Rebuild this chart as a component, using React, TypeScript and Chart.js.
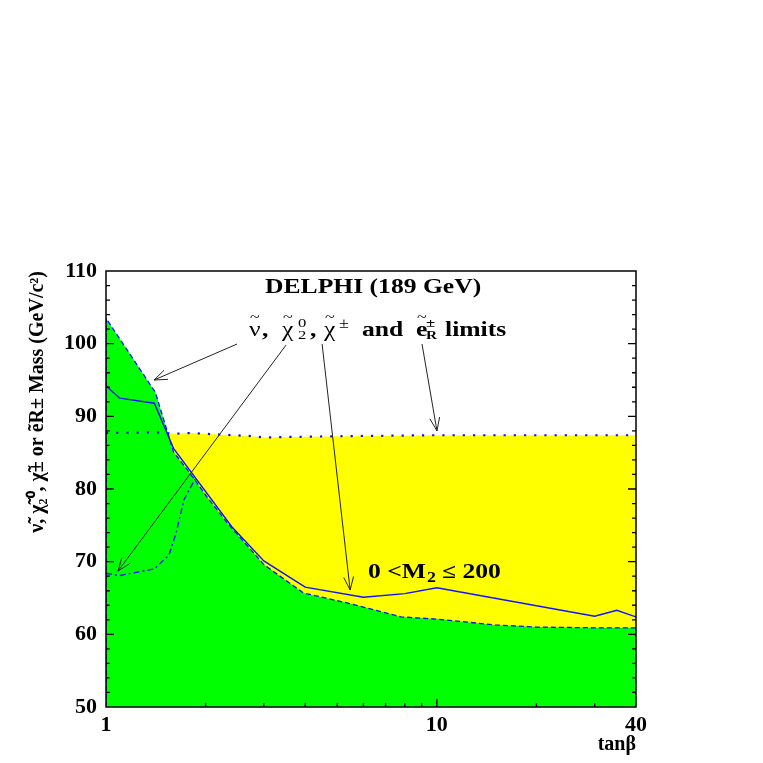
import React, { useEffect, useRef } from "react";
import { Chart, registerables } from "chart.js";

Chart.register(...registerables);

// ---- Axis ranges & ticks ----
const X_MIN = 1;
const X_MAX = 40;
const Y_MIN = 50;
const Y_MAX = 110;
const X_LABELS = [1, 10, 40];
const X_INNER_TICKS = [2, 3, 4, 5, 6, 7, 8, 9, 10, 20, 30];
const X_MAJOR_INNER = [10];
const Y_INNER_TICKS = [52, 54, 56, 58, 60, 62, 64, 66, 68, 70, 72, 74, 76, 78, 80, 82, 84, 86, 88, 90, 92, 94, 96, 98, 100, 102, 104, 106, 108];

// ---- Sneutrino limit (green region boundary, dashed) ----
const SNEUTRINO_X = [1, 1, 1.41, 1.6, 1.84, 2.02, 2.33, 3.0, 3.95, 5.5, 7.8, 10, 15, 20, 30, 40, 40];
const SNEUTRINO_Y = [50, 103.5, 93.3, 85.1, 81.5, 78.9, 75.3, 69.6, 65.7, 64.2, 62.4, 62.1, 61.3, 61.0, 60.9, 60.9, 50];

// ---- Chargino limit (solid) ----
const CHARGINO_X = [1, 1.1, 1.4, 1.6, 2.4, 3.0, 4.0, 6.0, 8.0, 10, 30, 35, 40];
const CHARGINO_Y = [94.2, 92.5, 91.8, 85.6, 74.8, 70.1, 66.5, 65.1, 65.6, 66.4, 62.5, 63.3, 62.4];

// ---- Neutralino chi2^0 limit (dash-dot) ----
const NEUTRALINO_X = [1, 1.1, 1.4, 1.55, 1.63, 1.72, 1.86];
const NEUTRALINO_Y = [68.4, 68.1, 69.0, 70.9, 74.0, 78.5, 81.4];

// ---- Selectron limit (dotted; top of yellow region) ----
const SELECTRON_X = [1, 1.41, 1.5, 1.6, 1.8, 2.2, 2.7, 3.0, 4, 6, 10, 20, 40];
const SELECTRON_Y = [87.7, 87.8, 87.7, 87.6, 87.7, 87.5, 87.3, 87.1, 87.2, 87.3, 87.4, 87.4, 87.4];
const YELLOW_START_X = 1.5;

// ---- Texts ----
const Y_TITLE = "ν\u0303, χ\u0303₂⁰, χ\u0303± or e\u0303R± Mass (GeV/c²)";
const X_TITLE = "tanβ";
const TITLE_TEXT = "DELPHI (189 GeV)";

// annotation anchors in data coordinates (tanβ, mass)
const TITLE_AT = [3.025, 107.0];
const LABEL_AT = [2.706, 101.06];
const M2_AT = [6.195, 67.75];

// arrows: from / to in data coordinates
const ARROWS = [
  { from: [2.49, 99.95], to: [1.397, 95.0] },
  { from: [3.5, 99.8], to: [1.087, 68.7] },
  { from: [4.5, 99.95], to: [5.47, 66.1] },
  { from: [9.02, 99.95], to: [10.01, 88.0] },
];

const SERIF = '"Liberation Serif", "Times New Roman", serif';
const SX = 1.28;

type Run = { t: string; dx: number; dy?: number; size?: number; bold?: boolean };

const LABEL_RUNS: Run[] = [
  { t: "~", dx: 1, dy: -14, size: 14, bold: false },
  { t: "ν", dx: 0, bold: false },
  { t: ",", dx: 13 },
  { t: "~", dx: 34, dy: -14, size: 14, bold: false },
  { t: "χ", dx: 33, bold: false },
  { t: "0", dx: 49, dy: -9, size: 13, bold: false },
  { t: "2", dx: 49, dy: 3, size: 13, bold: false },
  { t: ",", dx: 61 },
  { t: "~", dx: 76, dy: -14, size: 14, bold: false },
  { t: "χ", dx: 75, bold: false },
  { t: "±", dx: 90, dy: -8, size: 14, bold: false },
  { t: "and", dx: 113 },
  { t: "~", dx: 168, dy: -14, size: 14, bold: false },
  { t: "e", dx: 167 },
  { t: "±", dx: 177, dy: -9, size: 13 },
  { t: "R", dx: 177, dy: 3, size: 12 },
  { t: "limits", dx: 196 },
];

const M2_RUNS: Run[] = [
  { t: "0 <M", dx: 0 },
  { t: "2", dx: 59, dy: 4, size: 14 },
  { t: "≤ 200", dx: 74 },
];

const TITLE_RUNS: Run[] = [{ t: TITLE_TEXT, dx: 0 }];

function toPoints(xs: number[], ys: number[]) {
  return xs.map((x, i) => ({ x, y: ys[i] }));
}

function drawRuns(ctx: CanvasRenderingContext2D, x0: number, y0: number, runs: Run[]) {
  for (const r of runs) {
    ctx.save();
    ctx.translate(x0 + r.dx, y0 + (r.dy || 0));
    ctx.scale(SX, 1);
    ctx.font = `${r.bold === false ? "" : "bold "}${r.size || 20}px ${SERIF}`;
    ctx.fillStyle = "#000";
    ctx.textAlign = "left";
    ctx.textBaseline = "alphabetic";
    ctx.fillText(r.t, 0, 0);
    ctx.restore();
  }
}

function drawArrow(ctx: CanvasRenderingContext2D, x1: number, y1: number, x2: number, y2: number) {
  const ang = Math.atan2(y2 - y1, x2 - x1);
  const L = 14;
  const w = 0.36;
  ctx.beginPath();
  ctx.moveTo(x1, y1);
  ctx.lineTo(x2, y2);
  ctx.moveTo(x2 - L * Math.cos(ang - w), y2 - L * Math.sin(ang - w));
  ctx.lineTo(x2, y2);
  ctx.lineTo(x2 - L * Math.cos(ang + w), y2 - L * Math.sin(ang + w));
  ctx.stroke();
}

const framePlugin = {
  id: "rootFrame",
  afterDatasetsDraw(chart: any) {
    const { ctx, chartArea: a, scales } = chart;
    const x = scales.x;
    const y = scales.y;
    ctx.save();
    ctx.strokeStyle = "#000";
    ctx.lineWidth = 1.5;
    ctx.strokeRect(a.left, a.top, a.right - a.left, a.bottom - a.top);
    ctx.lineWidth = 1.3;
    ctx.beginPath();
    for (const v of Y_INNER_TICKS) {
      const py = y.getPixelForValue(v);
      const len = v % 10 === 0 ? 8 : 4;
      ctx.moveTo(a.left, py);
      ctx.lineTo(a.left + len, py);
      ctx.moveTo(a.right, py);
      ctx.lineTo(a.right - len, py);
    }
    for (const v of X_INNER_TICKS) {
      const px = x.getPixelForValue(v);
      const len = X_MAJOR_INNER.includes(v) ? 8 : 4;
      ctx.moveTo(px, a.bottom);
      ctx.lineTo(px, a.bottom - len);
    }
    ctx.stroke();
    ctx.restore();
  },
  afterDraw(chart: any) {
    const { ctx, scales } = chart;
    const x = scales.x;
    const y = scales.y;
    const px = (p: number[]) => [x.getPixelForValue(p[0]), y.getPixelForValue(p[1])];
    ctx.save();
    ctx.strokeStyle = "#222";
    ctx.lineWidth = 1;
    for (const a of ARROWS) {
      const [x1, y1] = px(a.from);
      const [x2, y2] = px(a.to);
      drawArrow(ctx, x1, y1, x2, y2);
    }
    const [tx, ty] = px(TITLE_AT);
    drawRuns(ctx, tx, ty, TITLE_RUNS);
    const [lx, ly] = px(LABEL_AT);
    drawRuns(ctx, lx, ly, LABEL_RUNS);
    const [mx, my] = px(M2_AT);
    drawRuns(ctx, mx, my, M2_RUNS);
    ctx.restore();
  },
};

export default function App() {
  const ref = useRef<HTMLCanvasElement | null>(null);

  useEffect(() => {
    if (!ref.current) return;
    const blue = "#1010ff";
    const yellowPts = toPoints(SELECTRON_X, SELECTRON_Y).filter((p) => p.x >= YELLOW_START_X);
    const chart = new Chart(ref.current, {
      type: "line",
      data: {
        datasets: [
          {
            label: "chargino",
            data: toPoints(CHARGINO_X, CHARGINO_Y),
            borderColor: blue,
            borderWidth: 1.4,
            pointRadius: 0,
            fill: false,
            tension: 0,
            order: 1,
          },
          {
            label: "neutralino",
            data: toPoints(NEUTRALINO_X, NEUTRALINO_Y),
            borderColor: blue,
            borderWidth: 1.4,
            borderDash: [6, 3, 2, 3],
            pointRadius: 0,
            fill: false,
            tension: 0,
            order: 2,
          },
          {
            label: "selectron",
            data: toPoints(SELECTRON_X, SELECTRON_Y),
            borderColor: blue,
            borderWidth: 2.2,
            borderDash: [2.2, 8],
            pointRadius: 0,
            fill: false,
            tension: 0,
            order: 3,
          },
          {
            label: "sneutrino",
            data: toPoints(SNEUTRINO_X, SNEUTRINO_Y),
            borderColor: blue,
            borderWidth: 1.3,
            borderDash: [5, 3],
            backgroundColor: "#00ff00",
            pointRadius: 0,
            fill: "start",
            tension: 0,
            order: 4,
          },
          {
            label: "excluded (yellow)",
            data: yellowPts,
            borderColor: "rgba(0,0,0,0)",
            borderWidth: 1,
            backgroundColor: "#ffff00",
            pointRadius: 0,
            fill: "start",
            tension: 0,
            order: 5,
          },
        ],
      },
      options: {
        animation: false,
        responsive: false,
        events: [],
        layout: { padding: { left: 8, top: 271, right: 127, bottom: 5 } },
        plugins: {
          legend: { display: false },
          tooltip: { enabled: false },
          title: { display: false },
        },
        scales: {
          x: {
            type: "logarithmic",
            min: X_MIN,
            max: X_MAX,
            afterBuildTicks: (s: any) => {
              s.ticks = X_LABELS.map((v) => ({ value: v }));
            },
            afterFit: (s: any) => {
              s.height = 51;
            },
            grid: { display: false, drawTicks: false },
            border: { display: false },
            ticks: {
              autoSkip: false,
              maxRotation: 0,
              minRotation: 0,
              padding: 7,
              color: "#000",
              font: { family: SERIF, weight: "bold", size: 22, lineHeight: 1 },
              callback: (v: any) => String(v),
            },
            title: {
              display: true,
              text: X_TITLE,
              align: "end",
              color: "#000",
              font: { family: SERIF, weight: "bold", size: 20, lineHeight: 1 },
              padding: { top: 0, bottom: 3 },
            },
          },
          y: {
            type: "linear",
            min: Y_MIN,
            max: Y_MAX,
            afterFit: (s: any) => {
              s.width = 98;
            },
            grid: { display: false, drawTicks: false },
            border: { display: false },
            ticks: {
              stepSize: 10,
              padding: 9,
              color: "#000",
              font: { family: SERIF, weight: "bold", size: 22, lineHeight: 1 },
            },
            title: {
              display: true,
              text: Y_TITLE,
              align: "end",
              color: "#000",
              font: { family: SERIF, weight: "bold", size: 20, lineHeight: 1 },
              padding: { top: 20, bottom: 0 },
            },
          },
        },
      },
      plugins: [framePlugin],
    } as any);
    return () => chart.destroy();
  }, []);

  return (
    <div style={{ position: "fixed", left: 0, top: 0, width: 763, height: 763, background: "#fff" }}>
      <canvas ref={ref} width={763} height={763} style={{ display: "block" }} />
    </div>
  );
}
